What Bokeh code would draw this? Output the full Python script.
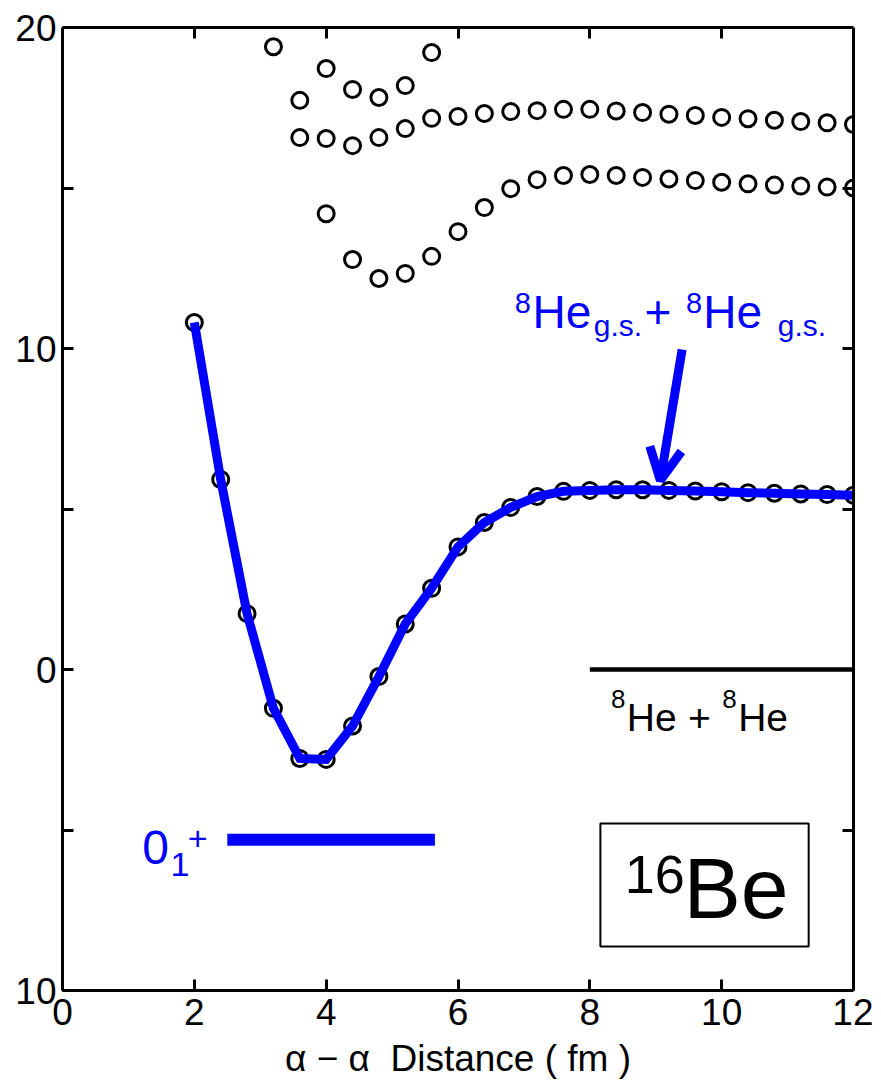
from bokeh.plotting import figure
from bokeh.models import (Range1d, LinearAxis, FixedTicker, CustomJSTickFormatter,
                          Label, Arrow, OpenHead, BoxAnnotation)
from bokeh.embed import file_html
from bokeh.resources import INLINE

# ---------------- data ----------------
gs_x = [2.0, 2.4, 2.8, 3.2, 3.6, 4.0, 4.4, 4.8, 5.2, 5.6, 6.0, 6.4, 6.8,
        7.2, 7.6, 8.0, 8.4, 8.8, 9.2, 9.6, 10.0, 10.4, 10.8, 11.2, 11.6, 12.0]
gs_y = [10.81, 5.92, 1.74, -1.21, -2.77, -2.80, -1.76, -0.22, 1.42, 2.53, 3.82,
        4.58, 5.05, 5.39, 5.55, 5.58, 5.60, 5.60, 5.58, 5.56, 5.54, 5.51, 5.49,
        5.47, 5.45, 5.43]

bandA_x = [3.6, 4.0, 4.4, 4.8, 5.2, 5.6, 6.0, 6.4, 6.8, 7.2, 7.6, 8.0, 8.4,
           8.8, 9.2, 9.6, 10.0, 10.4, 10.8, 11.2, 11.6, 12.0]
bandA_y = [16.57, 16.54, 16.32, 16.57, 16.85, 17.17, 17.23, 17.32, 17.38, 17.41,
           17.45, 17.45, 17.40, 17.35, 17.30, 17.26, 17.20, 17.16, 17.11, 17.07,
           17.03, 16.98]

bandB_x = [4.0, 4.4, 4.8, 5.2, 5.6, 6.0, 6.4, 6.8, 7.2, 7.6, 8.0, 8.4, 8.8,
           9.2, 9.6, 10.0, 10.4, 10.8, 11.2, 11.6, 12.0]
bandB_y = [14.20, 12.77, 12.18, 12.34, 12.87, 13.64, 14.39, 14.98, 15.26, 15.39,
           15.42, 15.39, 15.33, 15.28, 15.23, 15.18, 15.13, 15.09, 15.06, 15.03,
           15.00]

bandC_x = [3.2, 3.6, 4.0, 4.4, 4.8, 5.2, 5.6]
bandC_y = [19.40, 17.73, 18.72, 18.07, 17.82, 18.19, 19.22]

curve_x = gs_x
curve_y = gs_y

level_0p_x = [2.5, 5.65]
level_0p_y = [-5.3, -5.3]

threshold_x = [8.0, 12.0]
threshold_y = [0.0, 0.0]

x_ticks = [0, 2, 4, 6, 8, 10, 12]
y_ticks = [-10, -5, 0, 5, 10, 15, 20]
y_tick_labels = {-10: "10", -5: "", 0: "0", 5: "", 10: "10", 15: "", 20: "20"}
x_title = "α − α\u00a0 Distance ( fm )"

FONT = "Liberation Sans"
BLUE = "#0000FF"
PX_PER_Y = 963 / 30.0   # screen pixels per y data unit (for text baseline fix)

# ---------------- figure ----------------
p = figure(frame_width=791, frame_height=963,
           x_range=Range1d(0, 12), y_range=Range1d(-10, 20),
           output_backend="svg", toolbar_location=None,
           min_border_left=62, min_border_right=20,
           min_border_top=27, min_border_bottom=40,
           x_axis_location=None, y_axis_location=None)
p.grid.visible = False
p.outline_line_color = None
p.background_fill_color = "white"
p.border_fill_color = "white"

def style_axis(ax, labels=True):
    ax.axis_line_width = 3
    ax.axis_line_color = "black"
    ax.major_tick_line_width = 3
    ax.major_tick_line_color = "black"
    ax.major_tick_in = 11
    ax.major_tick_out = 0
    ax.minor_tick_line_color = None
    ax.major_label_text_font = FONT
    ax.major_label_text_color = "black"
    if labels:
        ax.major_label_text_font_size = "37px"
    else:
        ax.major_label_text_font_size = "0px"
        ax.major_label_standoff = 0
        ax.formatter = CustomJSTickFormatter(code="return ''")

xb = LinearAxis(ticker=FixedTicker(ticks=x_ticks), axis_label=x_title)
style_axis(xb)
xb.major_label_standoff = 8
xb.major_label_text_line_height = 0.9
xb.axis_label_standoff = 10
xb.axis_label_text_font = FONT
xb.axis_label_text_font_size = "37px"
xb.axis_label_text_line_height = 0.9
xb.axis_label_text_font_style = "normal"
xb.axis_label_text_color = "black"
p.add_layout(xb, "below")

xt = LinearAxis(ticker=FixedTicker(ticks=x_ticks[1:-1]))
style_axis(xt, labels=False)
p.add_layout(xt, "above")

yl = LinearAxis(ticker=FixedTicker(ticks=y_ticks))
style_axis(yl)
yl.major_label_overrides = y_tick_labels
yl.major_label_standoff = 6
p.add_layout(yl, "left")

yr = LinearAxis(ticker=FixedTicker(ticks=y_ticks[1:-1]))
style_axis(yr, labels=False)
p.add_layout(yr, "right")

# ---------------- marks ----------------
circ = dict(marker="circle", size=16, fill_color=None, line_color="black", line_width=3)
p.scatter(gs_x, gs_y, **circ)
p.scatter(bandA_x, bandA_y, **circ)
p.scatter(bandB_x, bandB_y, **circ)
p.scatter(bandC_x, bandC_y, **circ)

p.line(curve_x, curve_y, line_color=BLUE, line_width=9, line_join="miter")
p.line(level_0p_x, level_0p_y, line_color=BLUE, line_width=12)
p.line(threshold_x, threshold_y, line_color="black", line_width=4.5)

# arrow pointing to the 8He g.s. + 8He g.s. asymptote
p.add_layout(Arrow(end=OpenHead(size=32, line_width=9, line_color=BLUE),
                   x_start=9.40, y_start=9.97, x_end=9.07, y_end=5.89,
                   line_width=9, line_color=BLUE))

def lab(x, y, text, size, color="black", align="left"):
    # y is the wanted baseline; compensate the renderer's baseline offset
    y_anchor = y + 0.34 * size / PX_PER_Y
    p.add_layout(Label(x=x, y=y_anchor, text=text, text_font=FONT,
                       text_font_size=f"{size}px", text_color=color,
                       text_align=align, text_baseline="alphabetic"))

# 0_1^+
lab(1.21, -6.04, "0", 48, BLUE)
lab(1.64, -6.42, "1", 34, BLUE)
lab(1.90, -5.61, "+", 34, BLUE)

# 8He g.s. + 8He g.s.
lab(6.86, 11.12, "8", 29, BLUE)
lab(7.13, 10.65, "He", 46, BLUE)
lab(8.06, 10.40, "g.s.", 30, BLUE)
lab(8.83, 10.65, "+", 46, BLUE)
lab(9.46, 11.12, "8", 29, BLUE)
lab(9.72, 10.65, "He", 46, BLUE)
lab(10.85, 10.40, "g.s.", 30, BLUE)

# 8He + 8He threshold
lab(8.32, -1.18, "8", 26)
lab(8.56, -1.90, "He", 39)
lab(9.49, -1.90, "+", 39)
lab(10.01, -1.18, "8", 26)
lab(10.25, -1.90, "He", 39)

# 16Be box
p.add_layout(BoxAnnotation(left=8.16, right=11.32, top=-4.80, bottom=-8.63,
                           fill_color=None, fill_alpha=0, line_color="black",
                           line_alpha=1.0, line_width=2))
lab(8.53, -6.95, "16", 54)
lab(9.42, -7.73, "Be", 86)

open("out.html", "w").write(file_html(p, INLINE))
